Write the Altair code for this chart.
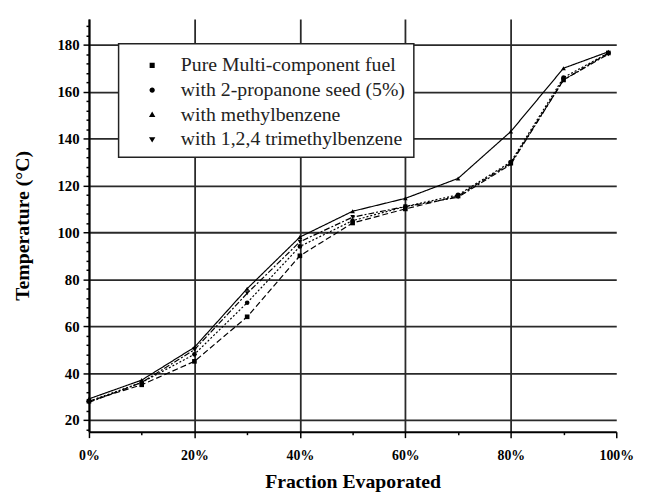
import altair as alt
import pandas as pd

# ---- data ----
series_names = [
    "Pure Multi-component fuel",
    "with 2-propanone seed (5%)",
    "with methylbenzene",
    "with 1,2,4 trimethylbenzene",
]
fraction = [0, 10, 20, 30, 40, 50, 60, 70, 80, 90, 98.5]
pure = [28, 35, 45, 64, 90, 104, 110, 115.5, 129.5, 165, 176.5]
propanone = [28, 36, 48, 70, 94, 105, 111, 116, 130, 166, 176.5]
methylbenzene = [29, 37, 51, 76, 98, 109, 114.5, 123, 143, 170, 177]
trimethylbenzene = [27.5, 36, 50, 74, 96, 106.5, 111, 115, 129, 165, 176]

x_ticks = [0, 20, 40, 60, 80, 100]
x_minor = [10, 30, 50, 70, 90]
y_ticks = [20, 40, 60, 80, 100, 120, 140, 160, 180]
y_minor = [v for v in range(16, 192, 4) if v % 20 != 0]
x_domain = [0, 100]
y_domain = [15, 191]

rows = []
for name, vals in zip(series_names, [pure, propanone, methylbenzene, trimethylbenzene]):
    for f, t in zip(fraction, vals):
        rows.append({"series": name, "series_ln": name, "series_pt": name, "frac": f, "T": t})
df = pd.DataFrame(rows)

FONT = "Liberation Serif"
dash_range = [[6, 3], [2, 2], [1, 0], [6, 2, 2, 2]]
pt_shapes = ["square", "circle", "triangle-up", "triangle-down"]
# legend symbols: a short line with a small marker in the middle
leg_shapes = [
    "M-1.6,0H1.6M-0.19,-0.19H0.19V0.19H-0.19Z",
    "M-1.6,0H1.6M-0.2,0A0.2,0.2,0,1,0,0.2,0A0.2,0.2,0,1,0,-0.2,0Z",
    "M-1.6,0H1.6M0,-0.24L0.24,0.17H-0.24Z",
    "M-1.6,0H1.6M0,0.24L0.24,-0.17H-0.24Z",
]

xs = alt.Scale(domain=x_domain, nice=False, zero=False)
ys = alt.Scale(domain=y_domain, nice=False, zero=False)

x_main = alt.X(
    "frac:Q", scale=xs,
    axis=alt.Axis(
        values=x_ticks, format="d", labelExpr="datum.value + '%'",
        title="Fraction Evaporated", grid=True, labelFlush=False,
        gridOpacity={"condition": {"test": "datum.value === 100", "value": 0}, "value": 1},
        tickSize=6, labelPadding=11, titlePadding=10, labelFontSize=14,
    ),
)
y_main = alt.Y(
    "T:Q", scale=ys,
    axis=alt.Axis(
        values=y_ticks, title="Temperature (°C)", grid=True, labelFlush=False,
        tickSize=6, labelPadding=4, titlePadding=25, labelFontSize=15,
    ),
)

lines = alt.Chart(df).mark_line(color="black", strokeWidth=1.2).encode(
    x=x_main,
    y=y_main,
    strokeDash=alt.StrokeDash("series_ln:N", scale=alt.Scale(domain=series_names, range=dash_range), legend=None),
    detail="series:N",
)

points = alt.Chart(df).mark_point(filled=True, color="black", size=22, opacity=1).encode(
    x=alt.X("frac:Q", scale=xs),
    y=alt.Y("T:Q", scale=ys),
    shape=alt.Shape("series_pt:N", scale=alt.Scale(domain=series_names, range=pt_shapes), legend=None),
)

legend_layer = alt.Chart(df).transform_filter("false").mark_point(
    filled=False, fill="black", stroke="black", strokeWidth=1, opacity=1, fillOpacity=1, strokeOpacity=1
).encode(
    x=alt.X("frac:Q", scale=xs),
    y=alt.Y("T:Q", scale=ys),
    shape=alt.Shape("series:N", scale=alt.Scale(domain=series_names, range=leg_shapes), title=None),
    strokeDash=alt.StrokeDash("series:N", scale=alt.Scale(domain=series_names, range=dash_range), title=None),
)

main = alt.layer(lines, points, legend_layer).resolve_scale(
    strokeDash="independent", shape="independent"
).resolve_legend(strokeDash="independent", shape="independent")

minor = alt.Chart(df).mark_point(opacity=0).encode(
    x=alt.X("frac:Q", scale=xs, axis=alt.Axis(values=x_minor, labels=False, domain=False, grid=False, tickSize=3, title=None, orient="bottom")),
    y=alt.Y("T:Q", scale=ys, axis=alt.Axis(values=y_minor, labels=False, domain=False, grid=False, tickSize=3, title=None, orient="left")),
)

chart = alt.layer(main, minor).resolve_scale(x="independent", y="independent").properties(
    width=534, height=418,
    autosize=alt.AutoSizeParams(type="none"),
    padding={"left": 82, "top": 8, "right": 21, "bottom": 61},
).configure_view(stroke=None).configure_axis(
    domainColor="black", domainWidth=2, tickColor="black", tickWidth=1.5,
    gridColor="#2a2a2a", gridWidth=1.8,
    labelFont=FONT, labelFontWeight="bold", labelColor="black",
    titleFont=FONT, titleFontSize=20, titleFontWeight="bold", titleColor="black",
).configure_legend(
    orient="none", legendX=30, legendY=25,
    fillColor="white", strokeColor="#222", strokeWidth=1.5,
    padding=8, symbolSize=729, symbolOffset=12, symbolStrokeWidth=1, symbolStrokeColor="black",
    symbolFillColor="black", labelFont=FONT, labelFontSize=20, labelColor="#222",
    labelOffset=15, rowPadding=1, labelLimit=400,
)

chart.save("out.html", embed_options={"renderer": "svg", "actions": False})
